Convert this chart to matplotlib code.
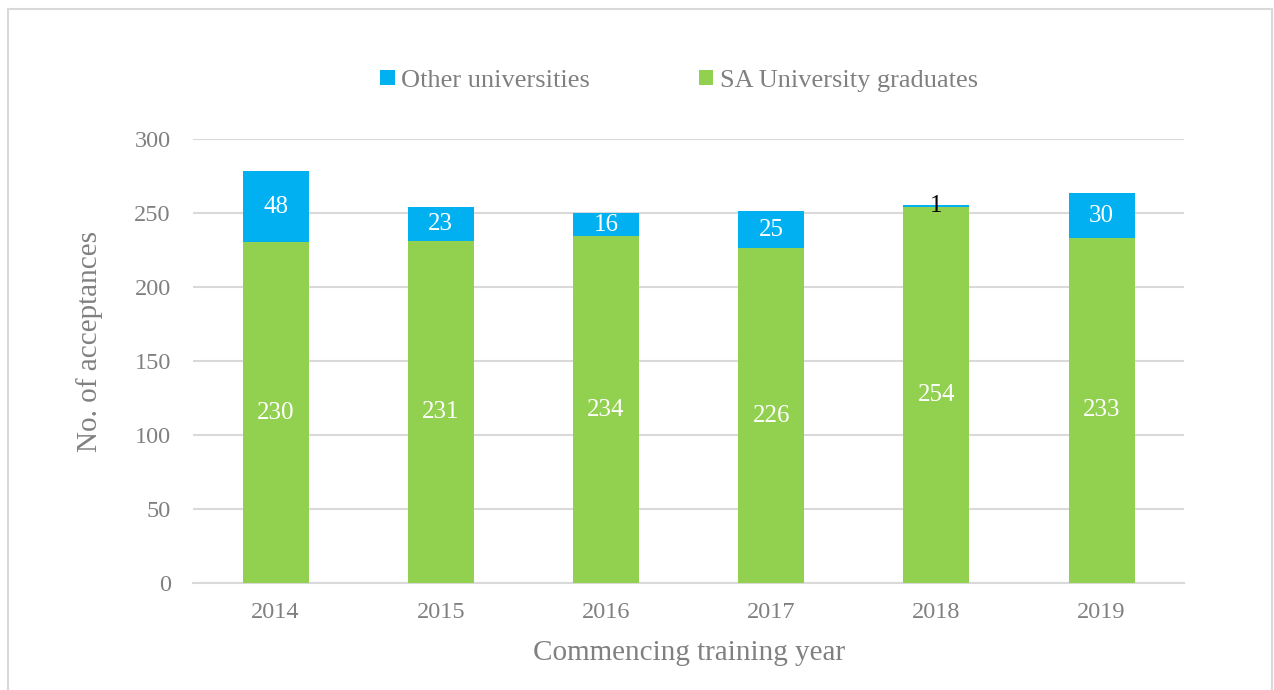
import matplotlib.pyplot as plt
from matplotlib.patches import Rectangle

years = ["2014", "2015", "2016", "2017", "2018", "2019"]
sa_grads = [230, 231, 234, 226, 254, 233]
other_unis = [48, 23, 16, 25, 1, 30]

green = "#92D050"
blue = "#00B0F0"
grey = "#808080"

plt.rcParams['font.family'] = ['Liberation Serif', 'DejaVu Serif']

fig = plt.figure(figsize=(12.74, 6.9), dpi=100)
ax = fig.add_axes([0.1515, 0.155, 0.778, 0.644])

x = range(len(years))
b1 = ax.bar(x, sa_grads, width=0.4, color=green, label="SA University graduates", zorder=3)
b2 = ax.bar(x, other_unis, width=0.4, bottom=sa_grads, color=blue, label="Other universities", zorder=3)

for i in x:
    ax.text(i, sa_grads[i] / 2, str(sa_grads[i]), ha="center", va="center",
            color="white", fontsize=18, zorder=4)
    # tiny segment: label drawn dark so it stays readable
    col = "white" if other_unis[i] > 5 else "black"
    ax.text(i, sa_grads[i] + other_unis[i] / 2, str(other_unis[i]), ha="center",
            va="center", color=col, fontsize=18, zorder=4)

ax.set_xlim(-0.5, 5.5)
ax.set_ylim(0, 300)
ax.set_yticks(range(0, 301, 50))
ax.set_xticks(list(x))
ax.set_xticklabels(years)
ax.grid(axis="y", color="#D9D9D9", linewidth=1.5, zorder=0)
for s in ["top", "right", "left"]:
    ax.spines[s].set_visible(False)
ax.spines["bottom"].set_color("#D9D9D9")
ax.spines["bottom"].set_linewidth(1.5)
ax.tick_params(length=0, labelsize=17.5, labelcolor=grey)
ax.tick_params(axis="x", pad=14)
ax.tick_params(axis="y", pad=16)

ax.set_xlabel("Commencing training year", fontsize=21, color=grey, labelpad=12)
ax.set_ylabel("No. of acceptances", fontsize=21, color=grey)
ax.yaxis.set_label_coords(-0.091, 0.543)

leg = fig.legend(handles=[b2, b1], loc="center", bbox_to_anchor=(0.533, 0.883), ncol=2,
                 frameon=False, fontsize=19, handlelength=0.55, handleheight=0.55,
                 handletextpad=0.25, columnspacing=4.1)
for t in leg.get_texts():
    t.set_color(grey)

fig.patches.append(Rectangle((8 / 1274, -0.01), 1264 / 1274, 1 - 9 / 690 + 0.01,
                             transform=fig.transFigure, fill=False,
                             edgecolor="#D9D9D9", linewidth=1.5))

fig.savefig("out.png", dpi=100)
